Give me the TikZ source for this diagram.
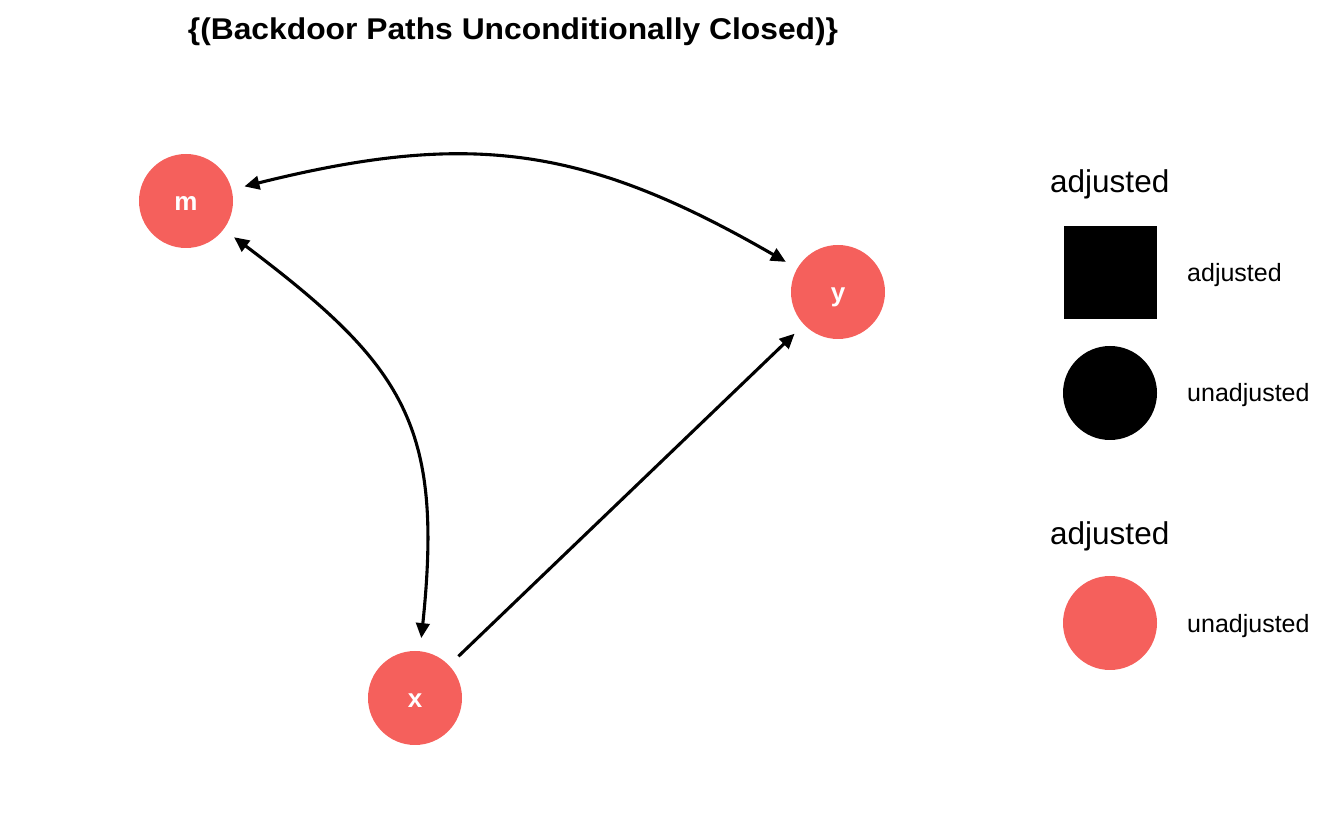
\documentclass[tikz,border=0pt]{standalone}
\usepackage{fontspec}
\setmainfont{Liberation Sans}
\usetikzlibrary{arrows.meta}
\definecolor{nodered}{HTML}{F5605C}
\begin{document}
\begin{tikzpicture}[x=1pt,y=1pt,
  >={Triangle[length=15pt,width=13.5pt]},
  dagnode/.style={circle,fill=nodered,draw=none,minimum size=94pt,inner sep=0pt,text=white,text height=20pt,text depth=0pt,font=\bfseries\fontsize{26}{30}\selectfont},
  edge/.style={line width=3.1pt,black,shorten >=13pt,shorten <=13pt},
  legtitle/.style={anchor=base west,inner sep=0pt,font=\fontsize{31.5}{36}\selectfont},
  leglabel/.style={anchor=base west,inner sep=0pt,font=\fontsize{25}{30}\selectfont}]
\useasboundingbox (0,0) rectangle (1344,830);
% title
\node[anchor=base,inner sep=0pt,font=\bfseries\fontsize{30}{34}\selectfont] (title) at (513,790) {\scalebox{1.06}[1]{\{(Backdoor Paths Unconditionally Closed)\}}};
% nodes
\node[dagnode] (m) at (186,629) {m};
\node[dagnode] (y) at (838,538) {y};
\node[dagnode] (x) at (415,132) {x};
% edges
\draw[edge,<->,looseness=1.1] (m) to[out=14,in=150] (y);
\draw[edge,<->,looseness=1.25] (m) to[out=-37,in=84] (x);
\draw[edge,->] (x) -- (y);
% legend
\node[legtitle] (lt1) at (1050,637) {adjusted};
\node[fill=black,minimum size=93pt,inner sep=0pt] (lsq) at (1110.5,557.5) {};
\node[leglabel] (ll1) at (1187,548) {adjusted};
\node[circle,fill=black,minimum size=94pt,inner sep=0pt] (lci) at (1110,437) {};
\node[leglabel] (ll2) at (1187,428) {unadjusted};
\node[legtitle] (lt2) at (1050,285) {adjusted};
\node[circle,fill=nodered,minimum size=94pt,inner sep=0pt] (lrc) at (1110,207) {};
\node[leglabel] (ll3) at (1187,197) {unadjusted};
\end{tikzpicture}
\end{document}
